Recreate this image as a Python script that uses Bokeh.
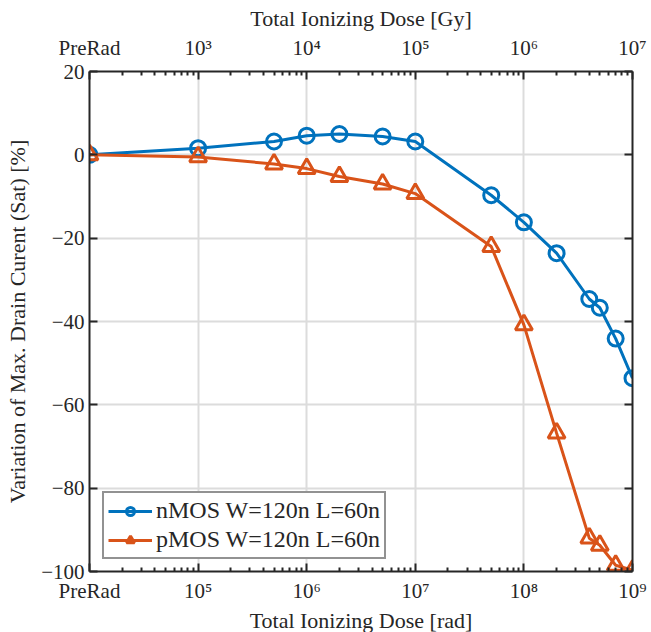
from bokeh.plotting import figure
from bokeh.models import (Range1d, LogAxis, LinearAxis, FixedTicker, Legend, LegendItem,
                          LogScale, Grid, CustomJSTickFormatter)
from bokeh.embed import file_html
from bokeh.resources import INLINE

# Total ionizing dose in rad (1e4 stands for the pre-irradiation point)
dose_rad = [1e4, 1e5, 5e5, 1e6, 2e6, 5e6, 1e7, 5e7, 1e8, 2e8, 4e8, 5e8, 7e8, 1e9]
nmos_var = [0.0, 1.6, 3.2, 4.6, 5.0, 4.4, 3.2, -9.7, -16.2, -23.6, -34.6, -36.7, -44.1, -53.6]
pmos_var = [0.0, -0.5, -2.2, -3.3, -5.2, -7.0, -9.3, -22.0, -40.8, -66.8, -92.0, -93.7, -98.5, -99.7]

x_major = [1e4, 1e5, 1e6, 1e7, 1e8, 1e9]
x_minor = [m * 10 ** e for e in range(4, 9) for m in range(2, 10)]
rad_labels = ["PreRad", "10⁵", "10⁶", "10⁷", "10⁸", "10⁹"]
gy_labels = ["PreRad", "10³", "10⁴", "10⁵", "10⁶", "10⁷"]
y_ticks = [-100, -80, -60, -40, -20, 0, 20]

BLUE = "#0072BD"
ORANGE = "#D95319"
AXC = "#262626"
FONT = "Liberation Serif"

p = figure(frame_width=543, frame_height=500, x_axis_type=None, y_axis_type=None,
           x_range=Range1d(1e4, 1e9), y_range=Range1d(-100, 20),
           output_backend="svg", toolbar_location=None,
           min_border_left=89, min_border_right=19, min_border_top=71, min_border_bottom=61)
p.x_scale = LogScale()
p.outline_line_color = None
p.background_fill_color = "white"
p.border_fill_color = "white"


def style_axis(ax):
    ax.axis_line_color = AXC
    ax.axis_line_width = 2
    ax.major_tick_line_color = AXC
    ax.major_tick_line_width = 2
    ax.major_tick_in = 8
    ax.major_tick_out = 0
    ax.minor_tick_line_color = AXC
    ax.minor_tick_line_width = 2
    ax.minor_tick_in = 4
    ax.minor_tick_out = 0
    ax.major_label_text_font = FONT
    ax.major_label_text_font_size = "21px"
    ax.major_label_text_color = AXC
    ax.axis_label_text_font = FONT
    ax.axis_label_text_font_size = "22px"
    ax.axis_label_text_font_style = "normal"
    ax.axis_label_text_color = AXC


xticker = FixedTicker(ticks=x_major, minor_ticks=x_minor)
yticker = FixedTicker(ticks=y_ticks, minor_ticks=[])

bottom = LogAxis(ticker=xticker, axis_label="Total Ionizing Dose [rad]",
                 major_label_overrides={t: s for t, s in zip(x_major, rad_labels)})
style_axis(bottom)
bottom.major_label_standoff = 7
bottom.axis_label_standoff = 2
p.add_layout(bottom, "below")

top = LogAxis(ticker=xticker, axis_label="Total Ionizing Dose [Gy]",
              major_label_overrides={t: s for t, s in zip(x_major, gy_labels)})
style_axis(top)
top.major_label_standoff = 12
top.axis_label_standoff = 2
p.add_layout(top, "above")

left = LinearAxis(ticker=yticker, axis_label="Variation of Max. Drain Curent (Sat) [%]")
style_axis(left)
left.major_label_standoff = 5
left.axis_label_standoff = 8
p.add_layout(left, "left")

# Right frame edge: ticks only
right = LinearAxis(ticker=yticker, formatter=CustomJSTickFormatter(code="return ''"))
style_axis(right)
right.major_label_standoff = 0
p.add_layout(right, "right")

# Grid lines
p.add_layout(Grid(dimension=0, ticker=FixedTicker(ticks=x_major[1:]),
                  grid_line_color="#dcdcdc", grid_line_width=2))
p.add_layout(Grid(dimension=1, ticker=yticker,
                  grid_line_color="#dcdcdc", grid_line_width=2))

nl = p.line(dose_rad, nmos_var, line_color=BLUE, line_width=3)
nm = p.scatter(dose_rad, nmos_var, marker="circle", size=15, line_color=BLUE,
               line_width=3, fill_color=None)
pl = p.line(dose_rad, pmos_var, line_color=ORANGE, line_width=3)
pm = p.scatter(dose_rad, pmos_var, marker="triangle", size=17, line_color=ORANGE,
               line_width=3, fill_color=None)

legend = Legend(items=[LegendItem(label="nMOS W=120n L=60n", renderers=[nl, nm]),
                       LegendItem(label="pMOS W=120n L=60n", renderers=[pl, pm])],
                location=(13, 12))
legend.label_text_font = FONT
legend.label_text_font_size = "24px"
legend.label_text_color = AXC
legend.glyph_width = 44
legend.glyph_height = 20
legend.label_height = 20
legend.label_standoff = 4
legend.spacing = 2
legend.padding = 4
legend.margin = 0
legend.border_line_color = AXC
legend.border_line_width = 2
legend.background_fill_color = "white"
legend.background_fill_alpha = 1
p.add_layout(legend, "center")

open("out.html", "w").write(file_html(p, INLINE))
